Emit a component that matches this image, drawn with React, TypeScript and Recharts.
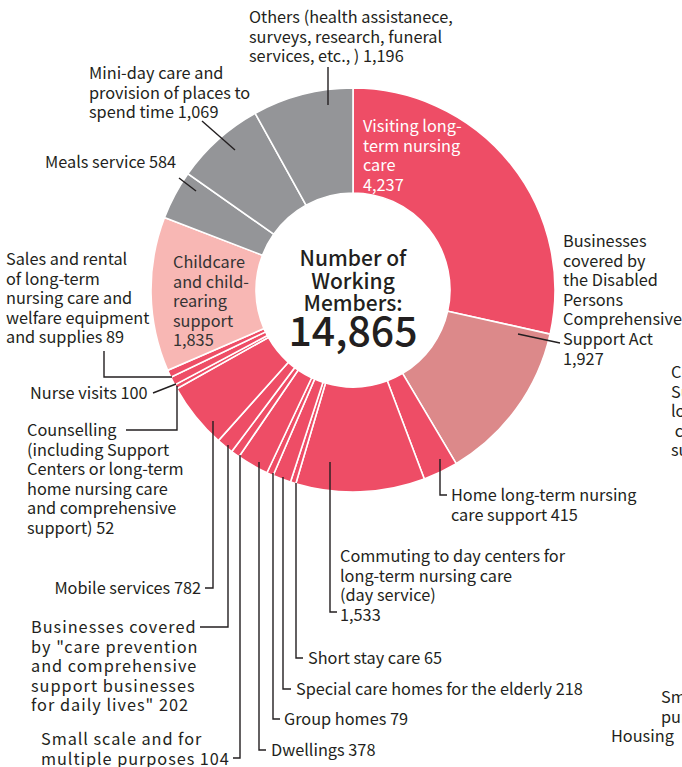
import React from 'react';
import { PieChart, Pie, Cell } from 'recharts';

// ---------- data ----------
const categories = [
  'Visiting long-term nursing care',
  'Businesses covered by the Disabled Persons Comprehensive Support Act',
  'Home long-term nursing care support',
  'Commuting to day centers for long-term nursing care (day service)',
  'Short stay care',
  'Special care homes for the elderly',
  'Group homes',
  'Dwellings',
  'Small scale and for multiple purposes',
  'Businesses covered by "care prevention and comprehensive support businesses for daily lives"',
  'Mobile services',
  'Counselling',
  'Nurse visits',
  'Sales and rental of long-term nursing care and welfare equipment and supplies',
  'Childcare and child-rearing support',
  'Meals service',
  'Mini-day care and provision of places to spend time',
  'Others',
];
const members = [4237, 1927, 415, 1533, 65, 218, 79, 378, 104, 202, 782, 52, 100, 89, 1835, 584, 1069, 1196];
const groups = ['care', 'disabled', 'care', 'care', 'care', 'care', 'care', 'care', 'care', 'care', 'care', 'care', 'care', 'care', 'child', 'other', 'other', 'other'];

const labelText: string[][] = [
  ['Visiting long-', 'term nursing', 'care', '{v}'],
  ['Businesses', 'covered by', 'the Disabled', 'Persons', 'Comprehensive', 'Support Act', '{v}'],
  ['Home long-term nursing', 'care support {v}'],
  ['Commuting to day centers for', 'long-term nursing care', '(day service)', '{v}'],
  ['Short stay care {v}'],
  ['Special care homes for the elderly {v}'],
  ['Group homes {v}'],
  ['Dwellings {v}'],
  ['Small scale and for', 'multiple purposes {v}'],
  ['Businesses covered', 'by "care prevention', 'and comprehensive', 'support businesses', 'for daily lives" {v}'],
  ['Mobile services {v}'],
  ['Counselling', '(including Support', 'Centers or long-term', 'home nursing care', 'and comprehensive', 'support) {v}'],
  ['Nurse visits {v}'],
  ['Sales and rental', 'of long-term', 'nursing care and', 'welfare equipment', 'and supplies {v}'],
  ['Childcare', 'and child-', 'rearing', 'support', '{v}'],
  ['Meals service {v}'],
  ['Mini-day care and', 'provision of places to', 'spend time {v}'],
  ['Others (health assistanece,', 'surveys, research, funeral', 'services, etc., ) {v}'],
];
const centerTitle = ['Number of', 'Working', 'Members:'];
const clippedRight = [
  ['Comprehensive', 'Support', 'long-term', ' care', 'support'],
  ['Small-scale', 'purpose', 'Housing'],
];

// ---------- styles / layout ----------
const COLORS: Record<string, string> = {
  care: '#EE4D66',
  disabled: '#DC898A',
  child: '#F8B7B4',
  other: '#949598',
};
const FONT = '"Noto Sans CJK JP", "Noto Sans", sans-serif';
const FS = 16.3;
const LH = 19.6;
const INK = '#231F20';

type Layout = { x: number; y: number; anchor?: 'start' | 'end'; fill?: string; ls?: number; path?: number[][] };
const layout: Layout[] = [
  { x: 363, y: 132, fill: '#fff' },
  { x: 563, y: 247, path: [[518, 334], [560, 343]] },
  { x: 451, y: 501, path: [[440, 459], [440, 495], [447, 495]] },
  { x: 340, y: 562, path: [[330, 462], [330, 612], [337, 612]] },
  { x: 308, y: 664, path: [[296, 483], [296, 658], [303, 658]] },
  { x: 296, y: 695, path: [[283, 477], [283, 689], [291, 689]] },
  { x: 284, y: 725, path: [[273, 473], [273, 719], [280, 719]] },
  { x: 271, y: 756, path: [[259, 462], [259, 750], [266, 750]] },
  { x: 41, y: 745, ls: 0.95, path: [[240, 455], [240, 758], [233, 758]] },
  { x: 31, y: 633, ls: 1.0, path: [[228, 445], [228, 627], [200, 627]] },
  { x: 201, y: 594, anchor: 'end', path: [[213, 421], [213, 588], [205, 588]] },
  { x: 27, y: 436, path: [[177, 386], [177, 430], [126, 430]] },
  { x: 30, y: 399, path: [[176, 384], [153, 393]] },
  { x: 6, y: 265, path: [[172, 377], [104, 377], [104, 351]] },
  { x: 173, y: 268, fill: '#333' },
  { x: 45, y: 168, path: [[196, 191], [179, 178]] },
  { x: 89, y: 79, path: [[235, 150], [202, 121]] },
  { x: 249, y: 23, path: [[328, 105], [328, 67]] },
];

const data = categories.map((name, i) => ({ name, value: members[i], group: groups[i] }));
const total = members.reduce((a, b) => a + b, 0);
const fmt = (v: number) => v.toLocaleString('en-US');

function MultiText({ x, y, lines, anchor = 'start', fill = INK, ls = 0, size = FS, lh = LH, weight = 400 }: any) {
  return (
    <text x={x} y={y} textAnchor={anchor} fill={fill} fontFamily={FONT} fontSize={size} fontWeight={weight} letterSpacing={ls}>
      {lines.map((l: string, k: number) => (
        <tspan key={k} x={x} dy={k === 0 ? 0 : lh}>{l}</tspan>
      ))}
    </text>
  );
}

function renderLabel(props: any) {
  const { index, cx, cy, value } = props;
  const lay = layout[index];
  const lines = labelText[index].map((s) => s.replace('{v}', fmt(value)));
  const pts = lay.path ? lay.path.map((p) => p.join(',')).join(' ') : null;
  return (
    <g key={`lab-${index}`}>
      {pts && <polyline points={pts} fill="none" stroke={INK} strokeWidth={1.4} />}
      <MultiText x={lay.x} y={lay.y} lines={lines} anchor={lay.anchor} fill={lay.fill} ls={lay.ls} />
      {index === 0 && (
        <g>
          <MultiText x={cx} y={cy - 24} lines={centerTitle} anchor="middle" size={21} lh={22.5} weight={500} fill={INK} />
          <text x={cx} y={cy + 56} textAnchor="middle" fontFamily={FONT} fontSize={41} fontWeight={500} fill={INK}>
            {fmt(total)}
          </text>
        </g>
      )}
    </g>
  );
}

export default function App() {
  return (
    <div style={{ position: 'absolute', left: 0, top: 0, width: 682, height: 767, background: '#fff' }}>
      <PieChart width={682} height={767} margin={{ top: 0, right: 0, bottom: 0, left: 0 }}>
        <Pie
          data={data}
          dataKey="value"
          nameKey="name"
          cx={353}
          cy={290}
          innerRadius={97}
          outerRadius={202}
          startAngle={90}
          endAngle={-270}
          isAnimationActive={false}
          label={renderLabel}
          labelLine={false}
          stroke="#fff"
          strokeWidth={1.6}
        >
          {data.map((d, i) => (
            <Cell key={i} fill={COLORS[d.group]} stroke="#fff" strokeWidth={1.6} />
          ))}
        </Pie>
      </PieChart>
      <svg width={682} height={767} style={{ position: 'absolute', left: 0, top: 0, pointerEvents: 'none' }}>
        <MultiText x={671} y={378} lines={clippedRight[0]} />
        <MultiText x={661} y={703} lines={clippedRight[1].slice(0, 2)} />
        <text x={611} y={703 + 2 * LH} fill={INK} fontFamily={FONT} fontSize={FS}>{clippedRight[1][2]}</text>
      </svg>
    </div>
  );
}
